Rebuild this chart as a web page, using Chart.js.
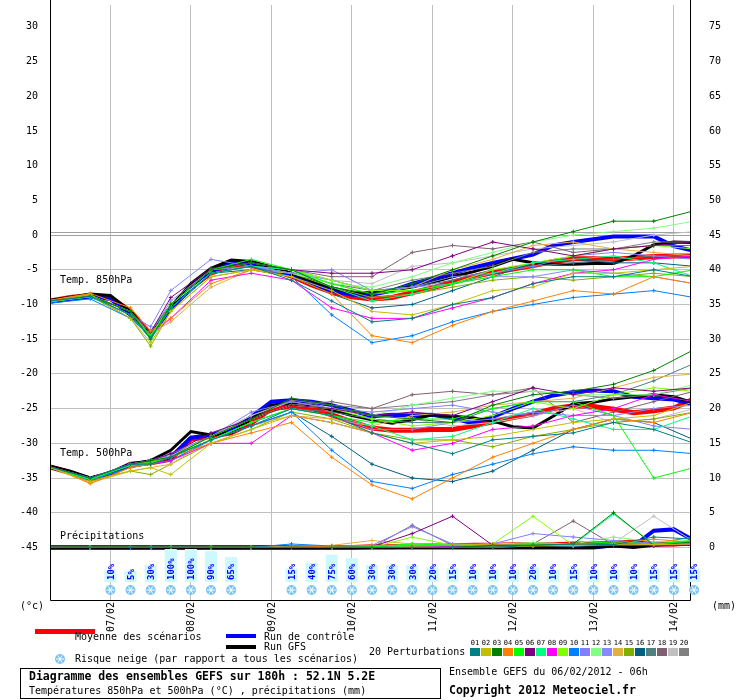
<!DOCTYPE html>
<html><head><meta charset="utf-8">
<script src="https://cdn.jsdelivr.net/npm/chart.js@4.4.1/dist/chart.umd.min.js"></script>
<style>html,body{margin:0;padding:0;background:#fff}#wrap{width:740px;height:700px;position:relative}</style>
</head><body><div id="wrap"><canvas id="ch"></canvas></div>
<script>
// Diagramme des ensembles GEFS - 52.1N 5.2E, run du 06/02/2012 06h
(function () {
  const H6 = []; for (let h = 0; h <= 192; h += 6) H6.push(h);
  const HP = [0,12,24,30,36,48,60,72,84,96,108,120,132,144,156,168,180,192];
  const COLORS = ["#008080","#c0c000","#008000","#ff8000","#00ff00","#800080","#00ff80","#ff00ff","#80ff00","#0080ff",
                  "#8080ff","#80ff80","#8888ff","#e0b040","#80b000","#006080","#508080","#806070","#c0c0c0","#808080"];

  const T850 = {
    mean: [-9.5,-9.0,-8.7,-9.0,-11,-14.3,-10.5,-7.5,-5.5,-4.4,-4.4,-5,-5.9,-7.2,-8.2,-8.9,-9.2,-9.0,-8.3,-7.6,-6.8,-6.0,-5.4,-4.9,-4.4,-3.8,-3.4,-3.4,-3.5,-3.3,-3.1,-3.0,-3.0],
    ctrl: [-9.6,-9.2,-8.9,-9.2,-11.5,-14.5,-10.5,-7.8,-5.3,-4.0,-4.2,-4.8,-5.8,-7.0,-8.0,-8.6,-8.6,-8.0,-7.0,-6.3,-5.5,-4.7,-4.0,-3.4,-2.8,-1.5,-1.0,-0.6,-0.2,-0.2,-0.2,-1.6,-2.3],
    gfs:  [-9.4,-9.0,-8.5,-8.7,-11,-14.5,-10.3,-7.0,-4.8,-3.6,-3.8,-4.6,-5.5,-6.6,-7.6,-8.3,-8.3,-7.9,-7.5,-6.8,-6.0,-5.3,-4.5,-3.5,-4.0,-4.2,-4.2,-4.1,-4.1,-3.0,-1.4,-1.0,-1.1],
    pert: [
      [-9.5,-8.8,-11.5,-14.8,-10.5,-5.5,-4.5,-6.5,-9.5,-12.5,-12,-10,-9,-7,-6,-6,-5,-6],
      [-9.6,-8.6,-12,-15.5,-11,-6,-5,-6,-8,-11,-11.5,-10,-8,-7.5,-5.5,-5.5,-5,-4.5],
      [-9.5,-8.7,-11,-15,-10,-5,-4,-5,-7.5,-8.5,-7,-5,-3,-1,0.5,2,2,3.5],
      [-9.4,-8.4,-10.5,-13.8,-12,-7,-5,-6,-8.5,-14.5,-15.5,-13,-11,-9.5,-8,-8.5,-6,-7],
      [-9.5,-8.7,-11,-14.5,-10,-5,-3.5,-5,-7,-8.5,-8,-7,-6,-5,-5,-6,-6,-5],
      [-9.5,-8.8,-11,-14,-9,-4.8,-4,-5,-5.5,-5.5,-5,-3,-1,-2,-3,-2,-1.5,-1],
      [-9.6,-8.9,-11.5,-15,-10.5,-5.5,-4.5,-5,-7.5,-9.5,-8.5,-7,-5.5,-4,-3.5,-3,-4,-6],
      [-9.5,-8.8,-11,-14.5,-12,-6.5,-5.5,-6.5,-10.5,-12,-12,-10.5,-9,-7,-5.5,-5,-3.5,-3],
      [-9.6,-8.7,-11,-14.8,-10,-5,-4,-5,-6.5,-8,-8,-7,-5,-4,-3,-2,-1.5,-2],
      [-9.8,-9.2,-12,-14.6,-10.5,-5.5,-4.5,-6,-11.5,-15.5,-14.5,-12.5,-11,-10,-9,-8.5,-8,-9],
      [-9.6,-8.8,-11.5,-13.2,-8,-3.5,-4.5,-5.5,-5,-8,-7.5,-6,-5.5,-4.5,-3,-2.5,-3,-3.5],
      [-9.5,-8.7,-11,-14.5,-10,-5.5,-4.5,-5.5,-7,-7.5,-6,-4,-2.5,-1,0,0.5,1,2],
      [-9.5,-8.8,-11,-14,-9.5,-5,-4.5,-5.5,-6.5,-8,-7.5,-7,-6,-6,-5,-5.5,-6,-7],
      [-9.4,-8.5,-12,-14.2,-12.5,-7.5,-5,-5.5,-7,-8.5,-7.5,-5,-3.5,-1.5,-1,-2,-2.5,-3],
      [-9.6,-8.8,-12,-16,-11,-6,-5,-5.5,-7.5,-9,-8.5,-7.5,-6.5,-6,-6.5,-6,-5.5,-6],
      [-9.6,-8.9,-11.5,-15,-10.5,-5.5,-5,-6,-8.5,-10.5,-10,-8,-6,-4,-3.5,-4,-4,-4.5],
      [-9.5,-8.8,-11,-14.5,-10,-5.5,-4.5,-5.5,-7,-8,-7.5,-6.5,-5,-4.5,-4,-3.5,-3,-3],
      [-9.5,-8.7,-11,-14,-10,-5,-4.5,-5,-6,-6,-2.5,-1.5,-2,-1,-2.5,-2,-1.5,-1.5],
      [-9.5,-8.7,-11,-14.5,-10.5,-5.5,-4.5,-5,-6.5,-7,-4.5,-4,-3,-2,-1.5,-1,0,0.5],
      [-9.5,-8.8,-11.5,-13.8,-10,-5,-4,-5,-6.5,-8,-6.5,-5.5,-4.5,-2.5,-2,-2,-1,-1]
    ]
  };

  const T500 = {
    mean: [-33.4,-34.2,-35.2,-34.4,-33,-32.8,-32.3,-29.4,-29.0,-28.5,-27.1,-25,-24.7,-25,-25.9,-26.9,-27.8,-28.1,-28.1,-28,-28,-27.5,-26.9,-26.3,-25.8,-25,-24.6,-24.7,-25.1,-25.6,-25.3,-24.9,-23.6],
    ctrl: [-33.4,-34.2,-35.1,-34.3,-33,-32.6,-32,-29.2,-28.8,-28,-26.2,-24,-23.8,-24,-24.5,-25.3,-26.1,-25.9,-26.0,-25.9,-26.4,-27.1,-26.2,-25,-24,-23.1,-22.6,-22.4,-22.5,-23.3,-23.5,-23.7,-24.4],
    gfs:  [-33.3,-34,-35,-34.2,-33,-32.5,-31,-28.3,-28.8,-28.5,-26.5,-24.5,-24.2,-24.5,-25.2,-26,-26.6,-27.1,-26.6,-25.9,-26.1,-26.3,-26.8,-27.6,-27.8,-26.1,-24.3,-24.1,-23.6,-23.3,-23,-23.3,-24.2],
    pert: [
      [-33.4,-35,-33,-33,-32,-29.5,-27.5,-25,-26,-28.5,-30,-31.5,-29.5,-29,-28.5,-27,-28,-30],
      [-33.5,-35.5,-34,-33.5,-34.5,-30,-28,-26,-27,-28.5,-30,-29.5,-29,-28,-27,-26.5,-26,-24],
      [-33.4,-35,-33,-32.5,-32,-29,-26.5,-23.5,-24.5,-26,-26.5,-27,-24.5,-23,-22.5,-21.5,-19.5,-16.5],
      [-33.3,-35.8,-33.5,-33,-32,-30,-28.5,-27,-32,-36,-38,-35,-32,-30,-28,-26.5,-27,-25.5],
      [-33.4,-35.2,-33,-32.8,-32,-29.5,-27,-25,-26,-27,-26.5,-26.5,-25,-24,-24,-26,-35,-33.5],
      [-33.4,-35,-33,-32.5,-31.5,-28.5,-26.5,-24.5,-25,-26,-25.5,-26,-24,-22,-23,-22,-22.5,-22],
      [-33.5,-35.2,-33.2,-33,-32,-29.5,-27,-25,-26,-27.5,-29.5,-29,-27,-25,-26.5,-28,-28,-26],
      [-33.4,-35,-33,-33,-32.5,-30,-30,-26,-27,-28.5,-31,-30,-28,-27.5,-26,-25,-23,-24],
      [-33.4,-35.1,-33,-32.6,-32,-29,-26.5,-24.5,-25,-26.5,-27.5,-27,-26,-24,-25,-23,-22,-22.5],
      [-33.5,-35.3,-33.5,-33,-32.5,-29.5,-27.5,-25.5,-31,-35.5,-36.5,-34.5,-33,-31.5,-30.5,-31,-31,-31.5],
      [-33.4,-35,-33,-32.5,-31.5,-29,-25.5,-24,-25,-25.5,-25,-24.5,-25.5,-26,-24.5,-26,-27.5,-28],
      [-33.4,-35,-33,-32.5,-32,-29,-26.5,-24.5,-25,-26,-24.5,-23.5,-22.5,-22.5,-23,-23,-23,-21.5],
      [-33.4,-35,-33.2,-32.8,-32,-29.5,-27,-25,-26,-28,-28,-27,-26.5,-25.5,-26,-26,-25,-24.5],
      [-33.5,-35.7,-34,-33.5,-33,-29.5,-27.5,-26,-26.5,-27.5,-26,-25.5,-24.5,-24,-23.5,-22,-20.5,-20],
      [-33.4,-35.3,-34,-34.5,-33,-30,-28,-25.5,-26.5,-28.5,-29.5,-29.5,-30.5,-29,-28,-27,-26.5,-25.5],
      [-33.5,-35.2,-33.5,-33,-32.5,-29.5,-27.5,-25.5,-29,-33,-35,-35.5,-34,-31,-28,-26.5,-27,-29.5],
      [-33.4,-35,-33,-32.7,-32,-29.5,-27,-25,-25.5,-26.5,-27,-27,-25,-24,-24,-23,-21,-18.5],
      [-33.4,-35,-33,-32.5,-32,-29,-26.5,-24.5,-24,-25,-23,-22.5,-23,-22,-27,-25.5,-24,-22.5],
      [-33.4,-35,-33,-32.5,-31.8,-29,-26,-24,-25,-26,-26.5,-27.5,-27,-26,-25,-27,-26.5,-25],
      [-33.4,-35.1,-33,-32.5,-31.5,-29,-26,-23.8,-24.5,-25,-24.5,-24,-23,-22.5,-23,-23.5,-23,-22]
    ]
  };

  // precipitations en mm (axe de droite)
  const PRECIP = {
    mean: [0,0,0,0,0,0,0,0,0,0,0,0,0,0,0,0,0.1,0.1,0.2,0.2,0.2,0.3,0.3,0.4,0.4,0.4,0.5,0.5,0.6,0.8,0.5,0.5,0.7],
    ctrl: [0,0,0,0,0,0,0,0,0,0,0,0,0,0,0,0,0,0,0,0,0,0,0,0,0,0,0,0,0.3,0.2,2.4,2.6,1.0],
    gfs:  [0,0,0,0,0,0,0,0,0,0,0,0,0,0,0,0,0,0,0,0,0,0,0,0,0,0,0,0,0.2,0,0.3,0.5,0.6],
    pert: [
      [0,0,0,0,0,0,0,0,0,0,0,0,0,0.3,0.5,0.4,1.5,1.2],
      [0,0,0,0,0,0,0,0,0,0,0,0,0,0.2,0.3,0.5,0.4,0.5],
      [0,0,0,0,0,0,0,0,0,0,0,0,0.3,0.3,0.5,5,0.3,0.8],
      [0,0,0,0,0,0,0,0,0.2,0.3,0.2,0.3,0.4,0.3,0.4,0.5,1.2,0.7],
      [0,0,0,0,0,0,0,0,0,0.1,0.5,0.3,0.2,0.4,0.5,0.8,0.5,1.0],
      [0,0,0,0,0,0,0,0,0,0.1,2,4.5,0.3,0.3,0.4,0.6,0.2,0.3],
      [0,0,0,0,0,0,0,0,0,0,0.2,0.3,0.3,0.5,0.4,4.8,0.5,0.8],
      [0,0,0,0,0,0,0,0,0,0,0.1,0.2,0.2,0.3,0.4,0.6,0.3,0.5],
      [0,0,0,0,0,0,0,0,0,0,1.5,0.3,0.5,4.5,0.3,0.5,0.4,0.3],
      [0,0,0,0,0,0,0,0.5,0.2,0.1,0.1,0.2,0.3,0.3,0.2,0.4,0.3,0.6],
      [0,0,0,0,0,0,0,0,0,0.3,3,0.5,0.5,2,1.5,1,0.6,0.5],
      [0,0,0,0,0,0,0,0,0,0,0.5,0.3,0.5,0.7,0.5,1.5,0.8,1.0],
      [0,0,0,0,0,0,0,0,0,0,0.2,0.3,0.4,0.5,0.3,0.5,0.4,0.6],
      [0,0,0,0,0,0,0,0.2,0.3,1,0.5,0.3,0.4,0.3,0.2,0.5,0.4,0.5],
      [0,0,0,0,0,0,0,0,0,0,0.2,0.3,0.3,0.5,0.3,0.4,0.5,0.3],
      [0,0,0,0,0,0,0,0,0,0,0.1,0.2,0.2,0.3,0.2,0.3,0.4,0.5],
      [0,0,0,0,0,0,0,0,0,0,0.2,0.3,0.3,0.4,0.5,0.8,0.6,1.5],
      [0,0,0,0,0,0,0,0,0,0,3.2,0.3,0.3,0.5,3.8,0.4,0.3,0.6],
      [0,0,0,0,0,0,0,0,0,0,0.3,0.4,0.3,0.5,0.5,0.6,4.5,0.8],
      [0,0,0,0,0,0,0,0,0,0,0.5,0.3,0.5,0.4,0.3,0.5,0.4,0.7]
    ]
  };

  const SNOW_H = [18,24,30,36,42,48,54,72,78,84,90,96,102,108,114,120,126,132,138,144,150,156,162,168,174,180,186,192];
  const SNOW_P = [10,5,30,100,100,90,65,15,40,75,60,30,30,30,20,15,10,10,10,20,10,15,10,10,10,15,15,15];
  const DAYS = ["07/02","08/02","09/02","10/02","11/02","12/02","13/02","14/02"];

  const pts = (hours, vals) => vals.map((v, i) => ({ x: hours[i], y: v }));
  const datasets = [];
  [T850, T500].forEach((lvl) => {
    lvl.pert.forEach((p, i) => datasets.push({ data: pts(HP, p), borderColor: COLORS[i], borderWidth: 1, pointStyle: "cross", pointRadius: 2, pointBorderWidth: 1, pointBorderColor: COLORS[i] }));
  });
  PRECIP.pert.forEach((p, i) => datasets.push({ yAxisID: "y2", data: pts(HP, p), borderColor: COLORS[i], borderWidth: 1, pointStyle: "cross", pointRadius: 2, pointBorderWidth: 1, pointBorderColor: COLORS[i] }));
  [[T850, "y"], [T500, "y"], [PRECIP, "y2"]].forEach(([lvl, ax]) => {
    datasets.push({ yAxisID: ax, data: pts(H6, lvl.gfs), borderColor: "#000", borderWidth: 3, pointRadius: 0 });
    datasets.push({ yAxisID: ax, data: pts(H6, lvl.ctrl), borderColor: "#0000ff", borderWidth: 4, pointRadius: 0 });
  });
  [[T850, "y"], [T500, "y"], [PRECIP, "y2"]].forEach(([lvl, ax]) => {
    datasets.push({ yAxisID: ax, data: pts(H6, lvl.mean), borderColor: "#ff0000", borderWidth: 5, pointRadius: 0 });
  });

  const MONO = "'DejaVu Sans Mono', monospace";
  const FONT = "10px " + MONO;
  const decor = {
    id: "decor",
    beforeDatasetsDraw(c) {
      const ctx = c.ctx, a = c.chartArea, y = c.scales.y;
      ctx.save();
      ctx.strokeStyle = "#a0a0a0"; ctx.lineWidth = 1;
      const y0 = Math.round(y.getPixelForValue(0));
      ctx.beginPath(); ctx.moveTo(a.left, y0 - 2.5); ctx.lineTo(a.right, y0 - 2.5); ctx.stroke();
      ctx.restore();
    },
    afterDraw(c) {
      const ctx = c.ctx, a = c.chartArea, x = c.scales.x, y = c.scales.y, y2 = c.scales.y2;
      ctx.save();
      ctx.strokeStyle = "#000"; ctx.lineWidth = 1;
      ctx.beginPath();
      ctx.moveTo(a.left + 0.5, 0); ctx.lineTo(a.left + 0.5, a.bottom + 0.5); ctx.lineTo(a.right + 0.5, a.bottom + 0.5); ctx.lineTo(a.right + 0.5, 0);
      ctx.stroke();
      ctx.font = FONT; ctx.fillStyle = "#000"; ctx.textBaseline = "middle";
      for (let v = -45; v <= 30; v += 5) {
        ctx.textAlign = "right"; ctx.fillText(String(v), 38, y.getPixelForValue(v));
      }
      for (let v = 0; v <= 75; v += 5) {
        ctx.textAlign = "left"; ctx.fillText(String(v), 709, y2.getPixelForValue(v));
      }
      ctx.textAlign = "left";
      ctx.fillText("Temp. 850hPa", 60, y.getPixelForValue(-6.5));
      ctx.fillText("Temp. 500hPa", 60, y.getPixelForValue(-31.5));
      ctx.fillText("Précipitations", 60, y2.getPixelForValue(1.6));
      ctx.fillText("(°c)", 20, 606);
      ctx.fillText("(mm)", 712, 606);
      DAYS.forEach((d, i) => {
        const px = x.getPixelForValue(18 + 24 * i);
        ctx.save(); ctx.translate(px + 1, 602); ctx.rotate(-Math.PI / 2);
        ctx.textAlign = "right"; ctx.fillText(d, 0, 0); ctx.restore();
      });
      // risque neige
      SNOW_H.forEach((h, i) => {
        const px = x.getPixelForValue(h), p = SNOW_P[i];
        const hgt = 10 + p * 0.23;
        ctx.fillStyle = "#ccf8ff"; ctx.fillRect(px - 6, 582 - hgt, 12, hgt);
        ctx.save(); ctx.translate(px + 1, 580); ctx.rotate(-Math.PI / 2);
        ctx.fillStyle = "#0000ff"; ctx.font = "bold 9px " + MONO;
        ctx.textAlign = "left"; ctx.fillText(p + "%", 0, 0); ctx.restore();
        snow(ctx, px, 590);
      });
      // legende
      ctx.fillStyle = "#ff0000"; ctx.fillRect(35, 629, 60, 5);
      ctx.fillStyle = "#0000ff"; ctx.fillRect(226, 634, 30, 4);
      ctx.fillStyle = "#000"; ctx.fillRect(226, 645, 30, 4);
      ctx.font = FONT; ctx.fillStyle = "#000"; ctx.textAlign = "left";
      ctx.fillText("Moyenne des scénarios", 75, 637);
      ctx.fillText("Run de contrôle", 264, 637);
      ctx.fillText("Run GFS", 264, 647);
      snow(ctx, 60, 659);
      ctx.fillText("Risque neige (par rapport a tous les scénarios)", 75, 659);
      ctx.fillText("20 Perturbations", 369, 652);
      COLORS.forEach((col, i) => {
        const bx = 470 + i * 11;
        ctx.fillStyle = col; ctx.fillRect(bx, 648, 10, 8);
        ctx.fillStyle = "#000"; ctx.font = "7px " + MONO; ctx.textAlign = "center";
        ctx.fillText(String(i + 1).padStart(2, "0"), bx + 5, 643);
      });
      ctx.strokeStyle = "#000"; ctx.lineWidth = 1; ctx.strokeRect(20.5, 668.5, 420, 30);
      ctx.textAlign = "left"; ctx.fillStyle = "#000";
      ctx.font = "bold 11.5px " + MONO;
      ctx.fillText("Diagramme des ensembles GEFS sur 180h : 52.1N 5.2E", 29, 677);
      ctx.fillText("Copyright 2012 Meteociel.fr", 449, 691);
      ctx.font = FONT;
      ctx.fillText("Températures 850hPa et 500hPa (°C) , précipitations (mm)", 29, 691);
      ctx.fillText("Ensemble GEFS du 06/02/2012 - 06h", 449, 672);
      ctx.restore();
    }
  };

  function snow(ctx, cx, cy) {
    ctx.save();
    ctx.fillStyle = "#7cc4f0"; ctx.beginPath(); ctx.arc(cx, cy, 5, 0, Math.PI * 2); ctx.fill();
    ctx.strokeStyle = "#fff"; ctx.lineWidth = 1;
    for (let k = 0; k < 3; k++) {
      const an = k * Math.PI / 3;
      ctx.beginPath(); ctx.moveTo(cx - 4 * Math.cos(an), cy - 4 * Math.sin(an)); ctx.lineTo(cx + 4 * Math.cos(an), cy + 4 * Math.sin(an)); ctx.stroke();
    }
    ctx.restore();
  }

  const YMAX = 30 + 22 / 7, YMIN = YMAX - 600 / 7;
  new Chart(document.getElementById("ch"), {
    type: "line",
    data: { datasets },
    options: {
      responsive: true, maintainAspectRatio: false, animation: false,
      layout: { padding: { left: 50, right: 50, top: 0, bottom: 100 } },
      plugins: { legend: { display: false }, tooltip: { enabled: false } },
      elements: { line: { tension: 0 } },
      scales: {
        x: { type: "linear", min: 0, max: 190.8, ticks: { display: false }, border: { display: false },
             afterBuildTicks: (s) => { s.ticks = DAYS.map((d, i) => ({ value: 18 + 24 * i })); },
             grid: { color: "#c0c0c0", drawTicks: false } },
        y: { min: YMIN, max: YMAX, ticks: { display: false }, border: { display: false },
             afterBuildTicks: (s) => { const t = []; for (let v = -45; v <= 0; v += 5) t.push({ value: v }); s.ticks = t; },
             grid: { color: (ctx) => ctx.tick && ctx.tick.value === 0 ? "#a0a0a0" : "#c0c0c0", drawTicks: false } },
        y2: { position: "right", min: YMIN + 45, max: YMAX + 45, display: false }
      }
    },
    plugins: [decor]
  });
})();
</script></body></html>
